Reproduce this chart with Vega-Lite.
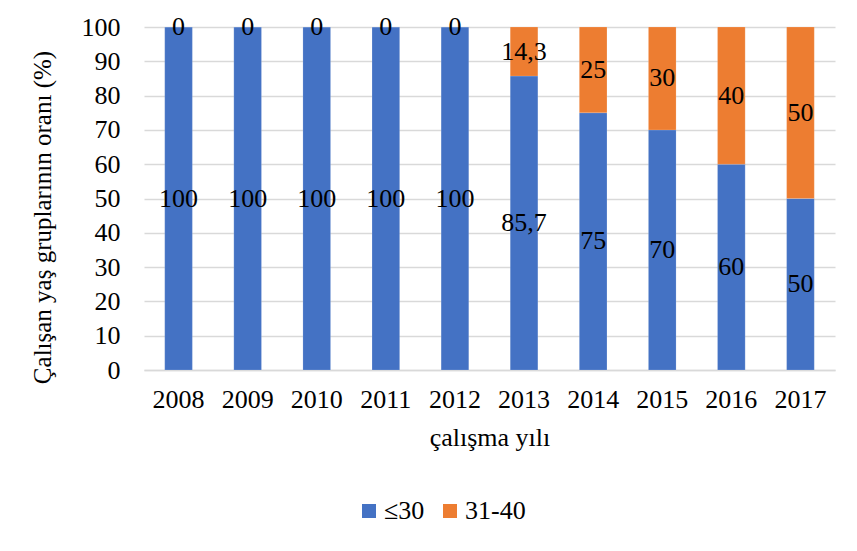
{
  "$schema": "https://vega.github.io/schema/vega-lite/v6.json",
  "width": 691,
  "height": 343,
  "autosize": {"type": "none"},
  "padding": {"left": 144, "top": 27, "right": 22, "bottom": 181},
  "background": "white",
  "config": {
    "font": "Liberation Serif",
    "view": {"stroke": null},
    "axisY": {
      "labelFontSize": 26, "labelColor": "#000000", "labelPadding": 24, "ticks": false, "domain": false,
      "labelOverlap": false, "gridColor": "#d9d9d9", "gridWidth": 1.5,
      "titleFontSize": 25, "titleFontWeight": "normal", "titleColor": "#000000", "titlePadding": 26, "titleY": 190
    },
    "locale": {"number": {"decimal": ",", "thousands": ".", "grouping": [3], "currency": ["", ""]}}
  },
  "data": {
    "values": [
      {"year": "2008", "group": "≤30", "k": 1, "value": 100},
      {"year": "2008", "group": "31-40", "k": 2, "value": 0},
      {"year": "2009", "group": "≤30", "k": 1, "value": 100},
      {"year": "2009", "group": "31-40", "k": 2, "value": 0},
      {"year": "2010", "group": "≤30", "k": 1, "value": 100},
      {"year": "2010", "group": "31-40", "k": 2, "value": 0},
      {"year": "2011", "group": "≤30", "k": 1, "value": 100},
      {"year": "2011", "group": "31-40", "k": 2, "value": 0},
      {"year": "2012", "group": "≤30", "k": 1, "value": 100},
      {"year": "2012", "group": "31-40", "k": 2, "value": 0},
      {"year": "2013", "group": "≤30", "k": 1, "value": 85.7},
      {"year": "2013", "group": "31-40", "k": 2, "value": 14.3},
      {"year": "2014", "group": "≤30", "k": 1, "value": 75},
      {"year": "2014", "group": "31-40", "k": 2, "value": 25},
      {"year": "2015", "group": "≤30", "k": 1, "value": 70},
      {"year": "2015", "group": "31-40", "k": 2, "value": 30},
      {"year": "2016", "group": "≤30", "k": 1, "value": 60},
      {"year": "2016", "group": "31-40", "k": 2, "value": 40},
      {"year": "2017", "group": "≤30", "k": 1, "value": 50},
      {"year": "2017", "group": "31-40", "k": 2, "value": 50}
    ]
  },
  "transform": [
    {"stack": "value", "groupby": ["year"], "sort": [{"field": "k", "order": "ascending"}], "as": ["v0", "v1"]}
  ],
  "encoding": {
    "x": {
      "field": "year", "type": "ordinal",
      "scale": {"paddingInner": 0.6, "paddingOuter": 0.3},
      "axis": {
        "title": "çalışma yılı", "labelAngle": 0, "labelFontSize": 26, "labelColor": "#000000",
        "labelPadding": 16, "ticks": false, "domainColor": "#d9d9d9", "domainWidth": 1.5,
        "titleFontSize": 26, "titleFontWeight": "normal", "titleColor": "#000000", "titlePadding": 12
      }
    }
  },
  "layer": [
    {
      "mark": {"type": "bar", "stroke": "#ffffff", "strokeOpacity": 0.3, "strokeWidth": 0.5},
      "encoding": {
        "y": {
          "field": "v0", "type": "quantitative",
          "scale": {"domain": [0, 100], "nice": false},
          "axis": {"title": "Çalışan yaş gruplarının oranı (%)", "values": [0,10,20,30,40,50,60,70,80,90,100]}
        },
        "y2": {"field": "v1"},
        "color": {
          "field": "group", "type": "nominal",
          "scale": {"domain": ["≤30", "31-40"], "range": ["#4472C4", "#ED7D31"]},
          "legend": {
            "title": null, "orient": "none", "direction": "horizontal", "columns": 2,
            "legendX": 212, "legendY": 471, "symbolType": "square", "symbolSize": 196,
            "symbolStrokeWidth": 0, "labelFontSize": 26, "labelColor": "#000000",
            "columnPadding": 12, "labelOffset": 2
          }
        },
        "order": {"field": "k", "type": "quantitative"}
      }
    },
    {
      "transform": [
        {"fold": ["v0", "v1"], "as": ["edge", "pos"]},
        {"aggregate": [{"op": "mean", "field": "pos", "as": "mid"}, {"op": "max", "field": "value", "as": "label"}], "groupby": ["year", "group"]}
      ],
      "mark": {"type": "text", "fontSize": 26, "color": "#000000", "baseline": "middle", "align": "center"},
      "encoding": {
        "y": {"field": "mid", "type": "quantitative", "axis": {"title": "Çalışan yaş gruplarının oranı (%)", "values": [0,10,20,30,40,50,60,70,80,90,100]}},
        "text": {"field": "label", "type": "quantitative", "format": ".1~f"}
      }
    }
  ]
}
